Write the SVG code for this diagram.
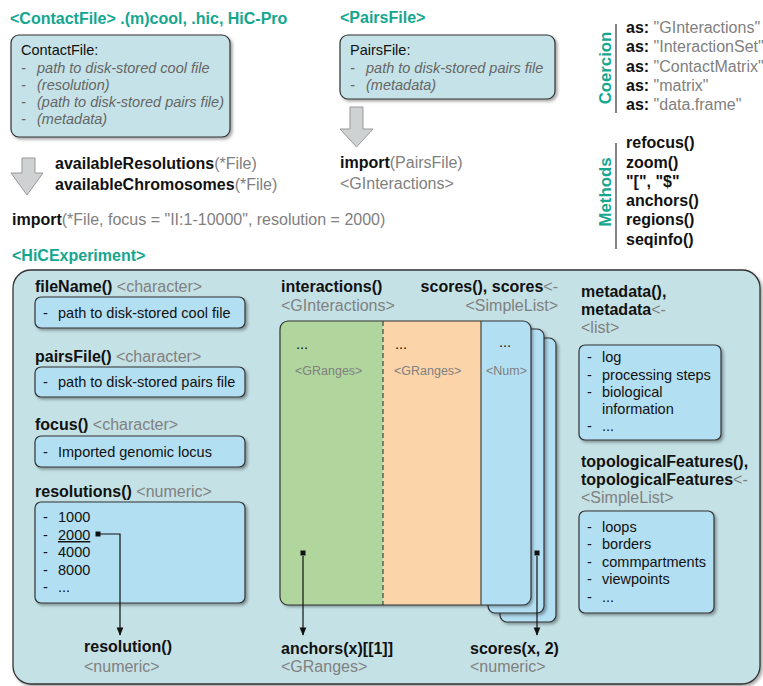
<svg xmlns="http://www.w3.org/2000/svg" width="763" height="686" viewBox="0 0 763 686">
<defs>
<filter id="sh" x="-10%" y="-10%" width="130%" height="130%">
<feDropShadow dx="2" dy="2" stdDeviation="1.5" flood-color="#000" flood-opacity="0.35"/>
</filter>
<marker id="ah" viewBox="0 0 10 10" refX="9" refY="5" markerWidth="7" markerHeight="7" orient="auto">
<path d="M0,1 L10,5 L0,9 Z" fill="#111"/>
</marker>
<clipPath id="mclip"><rect x="280" y="321" width="251" height="284" rx="8"/></clipPath>
</defs>
<style>
text{font-family:"Liberation Sans",Arial,sans-serif;}
.tt{font-weight:bold;font-size:16px;fill:#14a68f;}
.vt{font-weight:bold;font-size:16.8px;fill:#14a68f;}
.b{font-weight:bold;font-size:16px;fill:#111;}
.g{fill:#808080;font-weight:normal;}
.n{font-size:14.5px;fill:#111;}
.it{font-size:14.5px;fill:#666;font-style:italic;}
.s{font-size:12.5px;fill:#808080;}
.file{fill:#c4e2e7;stroke:#333;stroke-width:1.2;}
.lb{fill:#b3dff3;stroke:#333;stroke-width:1.2;}
.garrow{fill:#cfd2d3;stroke:#999;stroke-width:1;}
.conn{fill:none;stroke:#111;stroke-width:1.2;}
.vl{stroke:#333;stroke-width:1.2;}
</style>

<g id="contactfile">
<text class="tt" x="10" y="24">&lt;ContactFile&gt; .(m)cool, .hic, HiC-Pro</text>
<rect class="file" x="11" y="35" width="219" height="102" rx="8" filter="url(#sh)"/>
<text class="n" x="21" y="55">ContactFile:</text>
<text class="it" x="21" y="73">-</text><text class="it" x="37" y="73">path to disk-stored cool file</text>
<text class="it" x="21" y="90">-</text><text class="it" x="37" y="90">(resolution)</text>
<text class="it" x="21" y="107">-</text><text class="it" x="37" y="107">(path to disk-stored pairs file)</text>
<text class="it" x="21" y="124">-</text><text class="it" x="37" y="124">(metadata)</text>
</g>

<g id="pairsfile">
<text class="tt" x="340" y="23">&lt;PairsFile&gt;</text>
<rect class="file" x="340" y="35" width="215" height="64" rx="8" filter="url(#sh)"/>
<text class="n" x="350" y="55">PairsFile:</text>
<text class="it" x="350" y="73">-</text><text class="it" x="366" y="73">path to disk-stored pairs file</text>
<text class="it" x="350" y="90">-</text><text class="it" x="366" y="90">(metadata)</text>
</g>

<g id="arrow-left">
<path class="garrow" d="M22,158 L35,158 L35,173 L43,173 L27,195 L11,173 L22,173 Z"/>
</g>
<g id="arrow-pairs">
<path class="garrow" d="M350,107 L363,107 L363,129 L373,129 L356.5,147 L340,129 L350,129 Z"/>
</g>

<g id="available">
<text class="b" x="55" y="169">availableResolutions<tspan class="g">(*File)</tspan></text>
<text class="b" x="55" y="190">availableChromosomes<tspan class="g">(*File)</tspan></text>
</g>
<g id="import-file">
<text class="b" x="12" y="225">import<tspan class="g">(*File, focus = "II:1-10000", resolution = 2000)</tspan></text>
</g>
<g id="import-pairs">
<text class="b" x="340" y="168">import<tspan class="g">(PairsFile)</tspan></text>
<text class="b" x="340" y="189"><tspan class="g">&lt;GInteractions&gt;</tspan></text>
</g>

<g id="coercion">
<text class="vt" transform="translate(611,68) rotate(-90)" text-anchor="middle">Coercion</text>
<line class="vl" x1="616" y1="24" x2="616" y2="113"/>
<text class="b" x="626" y="33">as: <tspan class="g">"GInteractions"</tspan></text>
<text class="b" x="626" y="52">as: <tspan class="g">"InteractionSet"</tspan></text>
<text class="b" x="626" y="72">as: <tspan class="g">"ContactMatrix"</tspan></text>
<text class="b" x="626" y="91">as: <tspan class="g">"matrix"</tspan></text>
<text class="b" x="626" y="110">as: <tspan class="g">"data.frame"</tspan></text>
</g>

<g id="methods">
<text class="vt" transform="translate(611,192) rotate(-90)" text-anchor="middle">Methods</text>
<line class="vl" x1="616" y1="143" x2="616" y2="249"/>
<text class="b" x="626" y="148">refocus()</text>
<text class="b" x="626" y="168">zoom()</text>
<text class="b" x="626" y="187">"[", "$"</text>
<text class="b" x="626" y="206">anchors()</text>
<text class="b" x="626" y="225">regions()</text>
<text class="b" x="626" y="245">seqinfo()</text>
</g>

<g id="hicexperiment">
<text class="tt" x="12" y="261">&lt;HiCExperiment&gt;</text>
<rect x="13" y="270" width="747" height="414" rx="18" fill="#c4e1e6" stroke="#333" stroke-width="1.3" filter="url(#sh)"/>
</g>

<g id="filename">
<text class="b" x="35" y="292">fileName() <tspan class="g">&lt;character&gt;</tspan></text>
<rect class="lb" x="35" y="297" width="210" height="31" rx="6" filter="url(#sh)"/>
<text class="n" x="43" y="318">-</text><text class="n" x="58" y="318">path to disk-stored cool file</text>
</g>
<g id="pairsfile-slot">
<text class="b" x="35" y="362">pairsFile() <tspan class="g">&lt;character&gt;</tspan></text>
<rect class="lb" x="35" y="367" width="210" height="30" rx="6" filter="url(#sh)"/>
<text class="n" x="43" y="387">-</text><text class="n" x="58" y="387">path to disk-stored pairs file</text>
</g>
<g id="focus">
<text class="b" x="35" y="430">focus() <tspan class="g">&lt;character&gt;</tspan></text>
<rect class="lb" x="35" y="436" width="210" height="31" rx="6" filter="url(#sh)"/>
<text class="n" x="43" y="457">-</text><text class="n" x="58" y="457">Imported genomic locus</text>
</g>
<g id="resolutions">
<text class="b" x="35" y="497">resolutions() <tspan class="g">&lt;numeric&gt;</tspan></text>
<rect class="lb" x="35" y="502" width="210" height="101" rx="6" filter="url(#sh)"/>
<text class="n" x="43" y="522">-</text><text class="n" x="58" y="522">1000</text>
<text class="n" x="43" y="540">-</text><text class="n" x="58" y="540" text-decoration="underline">2000</text>
<text class="n" x="43" y="557">-</text><text class="n" x="58" y="557">4000</text>
<text class="n" x="43" y="575">-</text><text class="n" x="58" y="575">8000</text>
<text class="n" x="43" y="592">-</text><text class="n" x="58" y="592">...</text>
</g>
<g id="resolution">
<text class="b" x="84" y="652">resolution()</text>
<text class="b" x="84" y="672"><tspan class="g">&lt;numeric&gt;</tspan></text>
</g>

<g id="interactions">
<text class="b" x="281" y="292">interactions()</text>
<text class="b" x="281" y="311"><tspan class="g">&lt;GInteractions&gt;</tspan></text>
<text class="b" x="558" y="292" text-anchor="end">scores(), scores<tspan class="g">&lt;-</tspan></text>
<text class="b" x="558" y="311" text-anchor="end"><tspan class="g">&lt;SimpleList&gt;</tspan></text>
<rect x="500" y="338" width="56" height="284" rx="7" fill="#b3dff3" stroke="#333" stroke-width="1.2" filter="url(#sh)"/>
<rect x="488" y="329" width="56" height="284" rx="7" fill="#b3dff3" stroke="#333" stroke-width="1.2" filter="url(#sh)"/>
<rect x="280" y="321" width="251" height="284" rx="8" fill="#b3dff3" filter="url(#sh)"/>
<g clip-path="url(#mclip)">
<rect x="280" y="321" width="103" height="284" fill="#b0d69d"/>
<rect x="383" y="321" width="98" height="284" fill="#fbd5a9"/>
<rect x="481" y="321" width="50" height="284" fill="#b3dff3"/>
</g>
<line x1="383" y1="321" x2="383" y2="605" stroke="#444" stroke-width="1.2" stroke-dasharray="5,3"/>
<line x1="481" y1="321" x2="481" y2="605" stroke="#444" stroke-width="1.2"/>
<rect x="280" y="321" width="251" height="284" rx="8" fill="none" stroke="#333" stroke-width="1.2"/>
<text class="n" x="296" y="349">...</text>
<text class="s" x="295" y="375">&lt;GRanges&gt;</text>
<text class="n" x="395" y="349">...</text>
<text class="s" x="394" y="375">&lt;GRanges&gt;</text>
<text class="n" x="499" y="347">...</text>
<text class="s" x="486" y="375">&lt;Num&gt;</text>
</g>
<g id="anchors">
<text class="b" x="281" y="654">anchors(x)[[1]]</text>
<text class="b" x="281" y="672"><tspan class="g">&lt;GRanges&gt;</tspan></text>
</g>
<g id="scores">
<text class="b" x="470" y="654">scores(x, 2)</text>
<text class="b" x="470" y="672"><tspan class="g">&lt;numeric&gt;</tspan></text>
</g>

<g id="metadata">
<text class="b" x="581" y="297">metadata(),</text>
<text class="b" x="581" y="315">metadata<tspan class="g">&lt;-</tspan></text>
<text class="b" x="581" y="333"><tspan class="g">&lt;list&gt;</tspan></text>
<rect class="lb" x="579" y="345" width="142" height="95" rx="6" filter="url(#sh)"/>
<text class="n" x="587" y="362">-</text><text class="n" x="602" y="362">log</text>
<text class="n" x="587" y="380">-</text><text class="n" x="602" y="380">processing steps</text>
<text class="n" x="587" y="397">-</text><text class="n" x="602" y="397">biological</text>
<text class="n" x="602" y="414">information</text>
<text class="n" x="587" y="431">-</text><text class="n" x="602" y="431">...</text>
</g>
<g id="topological">
<text class="b" x="581" y="467">topologicalFeatures(),</text>
<text class="b" x="581" y="485">topologicalFeatures<tspan class="g">&lt;-</tspan></text>
<text class="b" x="581" y="503"><tspan class="g">&lt;SimpleList&gt;</tspan></text>
<rect class="lb" x="579" y="511" width="135" height="102" rx="6" filter="url(#sh)"/>
<text class="n" x="587" y="532">-</text><text class="n" x="602" y="532">loops</text>
<text class="n" x="587" y="549">-</text><text class="n" x="602" y="549">borders</text>
<text class="n" x="587" y="567">-</text><text class="n" x="602" y="567">commpartments</text>
<text class="n" x="587" y="584">-</text><text class="n" x="602" y="584">viewpoints</text>
<text class="n" x="587" y="602">-</text><text class="n" x="602" y="602">...</text>
</g>

<g id="connectors">
<rect x="95.5" y="531.5" width="5" height="5" fill="#111"/>
<path class="conn" d="M100,534 L120,534 L120,635" marker-end="url(#ah)"/>
<rect x="300.5" y="550.5" width="5" height="5" fill="#111"/>
<path class="conn" d="M303,556 L303,635" marker-end="url(#ah)"/>
<rect x="534.5" y="550.5" width="5" height="5" fill="#111"/>
<path class="conn" d="M537,556 L537,635" marker-end="url(#ah)"/>
</g>
</svg>
